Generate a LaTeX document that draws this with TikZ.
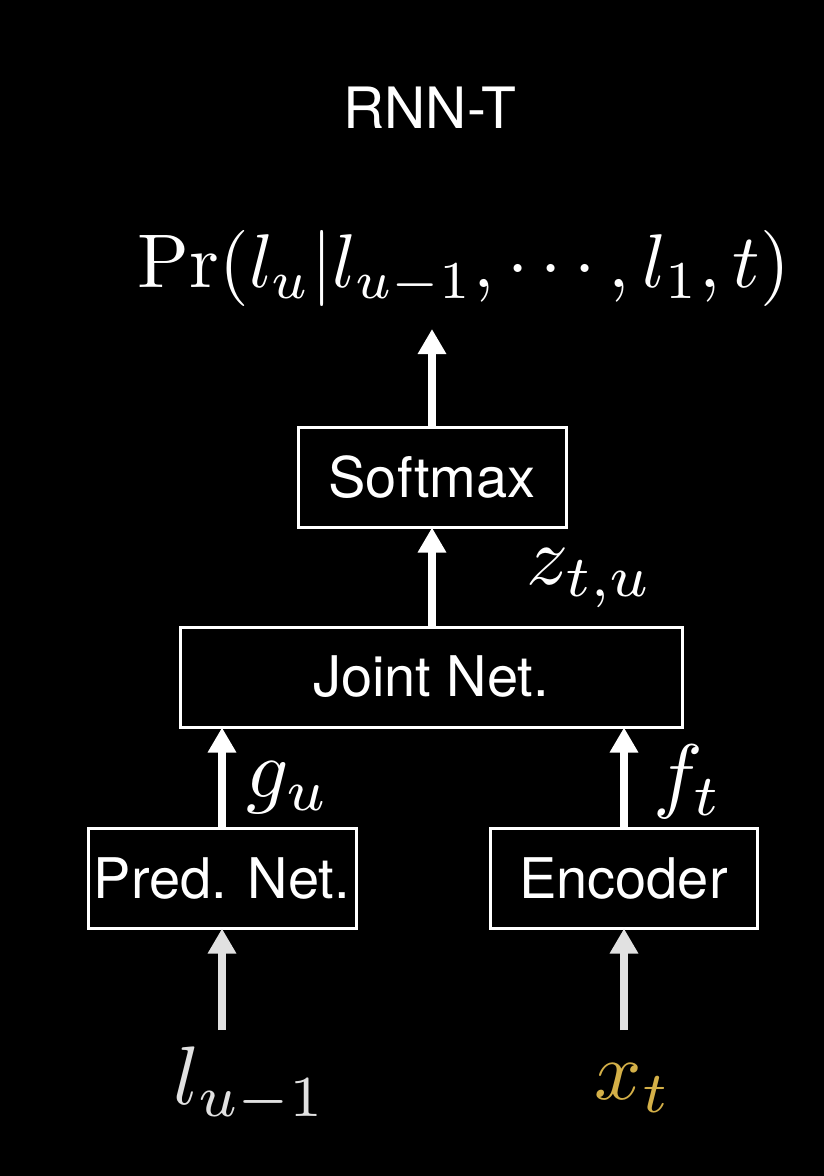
\documentclass[tikz,border=0pt]{standalone}
\usepackage{fontspec}
\setsansfont{TeX Gyre Heros}
\usetikzlibrary{arrows.meta}
\definecolor{gold}{RGB}{212,176,72}
\definecolor{lgrey}{RGB}{225,225,225}
\begin{document}
\begin{tikzpicture}[x=1pt,y=-1pt,
  box/.style={draw=white,line width=3pt,minimum height=100pt,inner sep=0pt,text=white,font=\sffamily\fontsize{56}{60}\selectfont},
  flow/.style={white,line width=7.5pt,-{Triangle[width=27pt,length=25pt]},shorten >=-1pt},
  flowg/.style={flow,lgrey},
  mlbl/.style={text=white,inner sep=0pt,scale=8.3}]
\fill[black] (0,0) rectangle (824,1176);
\useasboundingbox (0,0) rectangle (824,1176);
\node[text=white,font=\sffamily\fontsize{57}{60}\selectfont] (title) at (430,108) {RNN-T};
\node[text=white,inner sep=0pt] (pr) at (464,268) {\resizebox{652pt}{!}{$\mathrm{Pr}(l_u|l_{u-1},\cdots,l_1,t)$}};
\node[box,minimum width=268pt] (soft) at (432,477) {Softmax};
\node[box,minimum width=502pt] (joint) at (431,677) {Joint Net.};
\node[box,minimum width=268pt] (pred) at (222,878) {Pred. Net.};
\node[box,minimum width=267pt] (enc) at (623.5,878) {Encoder};
\coordinate (top) at (432,330);
\node[mlbl] (z) at (590,578) {$z_{t,u}$};
\node[mlbl] (g) at (288,788) {$g_u$};
\node[mlbl] (f) at (688,782) {$f_t$};
\node[mlbl,text=lgrey] (l) at (250,1085) {$l_{u-1}$};
\node[mlbl,text=gold] (x) at (633,1088) {$x_t$};
\coordinate (lin) at (222,1030);
\coordinate (xin) at (624,1030);
\draw[flow] (soft.north) -- (top);
\draw[flow] (joint.north-|soft.south) -- (soft.south);
\draw[flow] (pred.north) -- (pred.north|-joint.south);
\draw[flow] (enc.north-|xin) -- (xin|-joint.south);
\draw[flowg] (lin) -- (pred.south);
\draw[flowg] (xin) -- (xin|-enc.south);
\end{tikzpicture}
\end{document}
